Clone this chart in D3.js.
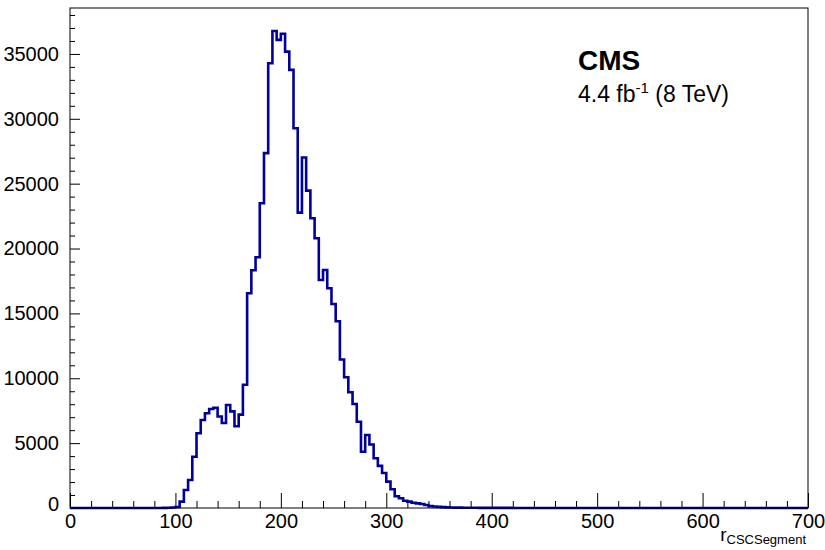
<!DOCTYPE html>
<html>
<head>
<meta charset="utf-8">
<script src="https://cdn.jsdelivr.net/npm/d3@7"></script>
<style>
  body { margin: 0; background: #fff; }
  svg text { font-family: "Liberation Sans", Arial, sans-serif; fill: #000; }
  .domain { display: none; }
</style>
</head>
<body>
<div id="chart"></div>
<script>
// histogram: r of CSC segments, 4-unit bins from 0 to 700
var binWidth = 4;
var xRange = [0, 700];
var counts = [
    0, 0, 0, 0, 0, 0, 0, 0, 0, 0,                                   // 0-36
    0, 0, 0, 0, 0, 0, 0, 0, 0, 0,                                   // 40-76
    0, 0, 10, 20, 40, 80, 490, 1390, 2160, 3950,                    // 80-116
    5760, 6780, 7300, 7630, 7730, 7050, 6550, 7940, 7450, 6300,     // 120-156
    7200, 9500, 16550, 18330, 19330, 23490, 27350, 34280, 36770, 36080, // 160-196
    36560, 35180, 33770, 29270, 22770, 27020, 24460, 22330, 20790, 17580, // 200-236
    18350, 16940, 15730, 14400, 11450, 10080, 8920, 8020, 6650, 4340, // 240-276
    5630, 4890, 3830, 3250, 2700, 2030, 1450, 900, 750, 560,       // 280-316
    490, 410, 360, 310, 230, 150, 110, 85, 65, 50,                  // 320-356
    40, 32, 27, 22, 19, 16, 14, 12, 10, 9,                          // 360-396
    8, 7, 7, 6, 6, 5, 5, 5, 4, 4,                                   // 400-436
    4, 4, 3, 3, 3, 3, 3, 3, 2, 2,                                   // 440-476
    2, 2, 2, 2, 2, 2, 1, 2, 1, 1,                                   // 480-516
    1, 1, 1, 1, 1, 1, 1, 1, 1, 1,                                   // 520-556
    1, 1, 1, 0, 1, 1, 0, 1, 0, 1,                                   // 560-596
    0, 1, 0, 0, 1, 0, 0, 1, 0, 0,                                   // 600-636
    1, 0, 0, 0, 1, 0, 0, 0, 0, 1,                                   // 640-676
    0, 0, 0, 0, 0                                                   // 680-696
];
var yMax = 38540;
var xMajor = [0, 100, 200, 300, 400, 500, 600, 700];
var yMajor = [0, 5000, 10000, 15000, 20000, 25000, 30000, 35000];

var W = 825, H = 550;
var margin = { left: 70, right: 17, top: 8, bottom: 42 };
var w = W - margin.left - margin.right,
    h = H - margin.top - margin.bottom;

var svg = d3.select('#chart').append('svg')
    .attr('width', W).attr('height', H);
var g = svg.append('g')
    .attr('transform', 'translate(' + margin.left + ',' + margin.top + ')');

var x = d3.scaleLinear().domain(xRange).range([0, w]);
var y = d3.scaleLinear().domain([0, yMax]).range([h, 0]);

// minor ticks
var xMinor = d3.range(xRange[0], xRange[1] + 1, 20).filter(v => v % 100 != 0);
var yMinor = d3.range(0, yMax, 1000).filter(v => v % 5000 != 0);

g.append('g').attr('transform', 'translate(0,' + h + ')')
    .call(d3.axisBottom(x).tickValues(xMinor).tickSizeInner(-7).tickSizeOuter(0).tickFormat(''));
g.append('g')
    .call(d3.axisLeft(y).tickValues(yMinor).tickSizeInner(-5).tickSizeOuter(0).tickFormat(''));

var xAxis = g.append('g').attr('transform', 'translate(0,' + h + ')')
    .call(d3.axisBottom(x).tickValues(xMajor).tickSizeInner(-15).tickSizeOuter(0)
        .tickPadding(6).tickFormat(d3.format('d')));
var yAxis = g.append('g')
    .call(d3.axisLeft(y).tickValues(yMajor).tickSizeInner(-10).tickSizeOuter(0)
        .tickPadding(11).tickFormat(d3.format('d')));

g.selectAll('.tick line').attr('stroke', '#000');
g.selectAll('.tick text').style('font-size', '20px');
yAxis.selectAll('.tick text').filter(d => d == 0).attr('dy', '0.1em');

// histogram outline
var pts = counts.map((c, i) => [i * binWidth, c]);
pts.unshift([0, 0]);
pts.push([xRange[1], counts[counts.length - 1]]);
pts.push([xRange[1], 0]);

g.append('path')
    .datum(pts)
    .attr('fill', 'none')
    .attr('stroke', '#00009a')
    .attr('stroke-width', 2.6)
    .attr('d', d3.line()
        .x(d => x(d[0]))
        .y(d => y(d[1]))
        .curve(d3.curveStepAfter));

// frame
g.append('rect')
    .attr('width', w).attr('height', h)
    .attr('fill', 'none').attr('stroke', '#000').attr('stroke-width', 1);

// labels
var cms = g.append('text').attr('x', 508).attr('y', 62)
    .style('font-size', '28px').style('font-weight', 'bold').text('CMS');
var lumi = g.append('text').attr('x', 508).attr('y', 94).style('font-size', '23px');
lumi.append('tspan').text('4.4 fb');
lumi.append('tspan').attr('dy', -9).style('font-size', '15px').text('-1');
lumi.append('tspan').attr('dy', 9).text(' (8 TeV)');

// axis title, kept just under the "700" label
var xt = svg.append('text').attr('x', 806).attr('y', 541).attr('text-anchor', 'end');
xt.append('tspan').style('font-size', '19px').text('r');
xt.append('tspan').attr('dy', 3).style('font-size', '13px').text('CSCSegment');
</script>
</body>
</html>
